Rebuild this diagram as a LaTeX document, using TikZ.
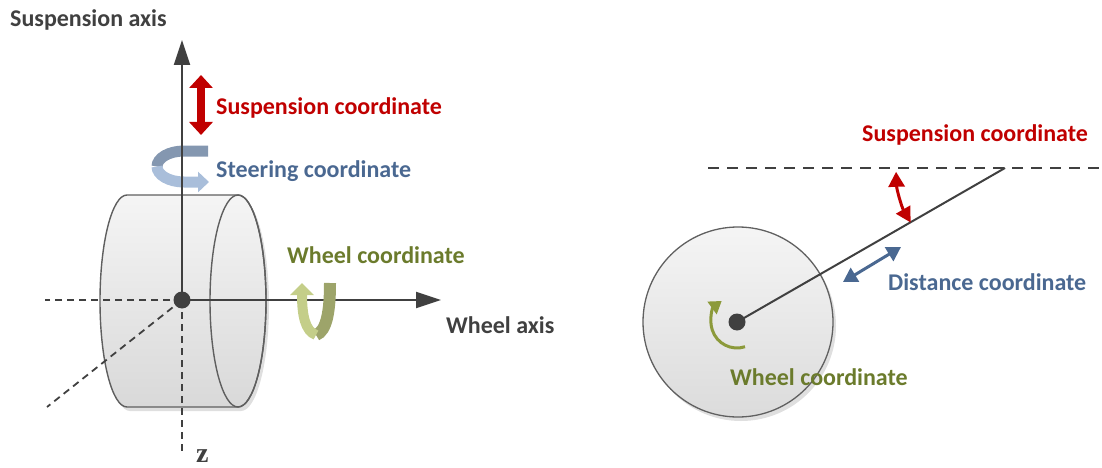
\documentclass[tikz,border=0pt]{standalone}
\usepackage{fontspec}
\setmainfont{Carlito}
\newfontfamily\zfont{Liberation Serif}
\usetikzlibrary{arrows.meta,shadows}

\definecolor{axisgray}{HTML}{404040}
\definecolor{suspred}{HTML}{C00000}
\definecolor{steerblue}{HTML}{4A6891}
\definecolor{steerdark}{HTML}{8497B0}
\definecolor{steerlight}{HTML}{A9BEDA}
\definecolor{wheeltext}{HTML}{6B7B2C}
\definecolor{wheelarc}{HTML}{8C9A3B}
\definecolor{ribbonlight}{HTML}{C4CE89}
\definecolor{ribbondark}{HTML}{9DA46A}
\definecolor{rimgray}{HTML}{5F5F5F}

\tikzset{
  lbl/.style={font=\fontsize{24}{28}\selectfont\bfseries, inner sep=0pt, anchor=base west},
  axisline/.style={draw=axisgray, line width=2pt, -{Triangle[length=25pt,width=16pt]}},
  dashline/.style={draw=axisgray, line width=1.8pt, dash pattern=on 7pt off 5pt},
  longdash/.style={draw=axisgray, line width=2.8pt, dash pattern=on 11pt off 8pt},
  hubdot/.style={circle, fill=axisgray, minimum size=17pt, inner sep=0pt},
  body/.style={draw=rimgray, line width=1.4pt, top color=gray!8, bottom color=gray!30},
  thintip/.tip={Triangle[length=14pt,width=16pt]},
}

\begin{document}
\begin{tikzpicture}[x=1pt,y=-1pt]
\useasboundingbox (0,0) rectangle (1102,468);

% ---------------- cylinder view ----------------
% wheel body seen at an angle
\path[body, drop shadow={shadow xshift=3pt, shadow yshift=-4pt, opacity=0.25}]
  (127,195) -- (238,195)
  arc[start angle=270, end angle=450, x radius=28, y radius=106]
  -- (127,407)
  arc[start angle=90, end angle=270, x radius=27, y radius=106] -- cycle;
\draw[draw=rimgray, line width=1.4pt] (238,301) ellipse[x radius=28, y radius=106];

\node[hubdot] (hub) at (182,300) {};
\coordinate (vtip) at (182,40);
\coordinate (htip) at (441,300);
\coordinate (hleft) at (45,300);
\coordinate (dleft) at (47,407);
\coordinate (vdown) at (182,454);

\draw[dashline] (hub.center) -- (hleft);
\draw[dashline] (hub.center) -- (dleft);
\draw[dashline] (hub.center) -- (vdown);

% steering ribbon around the suspension axis
\draw[steerdark, line width=11pt] (208,151) -- (184,151)
  arc[start angle=270, end angle=180, x radius=27, y radius=15.5];
\draw[steerlight, line width=11pt, -{Triangle[length=11pt,width=20pt]}]
  (157,166.5) arc[start angle=180, end angle=90, x radius=27, y radius=15.5] -- (209,182);

\draw[axisline] (hub.center) -- (vtip);
\draw[axisline] (hub.center) -- (htip);

% suspension travel
\coordinate (supA) at (201,75);
\coordinate (supB) at (201,135);
\draw[suspred, line width=8pt, {Triangle[length=13pt,width=23pt]}-{Triangle[length=13pt,width=23pt]}] (supA) -- (supB);

% wheel spin ribbon
\coordinate (rbot) at (316,335);
\coordinate (rleft) at (302,283);
\coordinate (rright) at (330,283);
\draw[ribbondark, line width=12pt] (rbot) .. controls (327,331) and (330,310) .. (rright);
\draw[ribbonlight, line width=10pt, -{Triangle[length=12pt,width=23pt]}]
  (rbot) .. controls (305,331) and (302,315) .. (rleft);

\node[lbl, text=axisgray] (saxis) at (10,27) {Suspension axis};
\node[lbl, text=suspred] (scoord) at (216,114) {Suspension coordinate};
\node[lbl, text=steerblue] (stcoord) at (216,177) {Steering coordinate};
\node[lbl, text=wheeltext] (wcoord) at (287,263) {Wheel coordinate};
\node[lbl, text=axisgray] (waxis) at (446,333) {Wheel axis};
\node[inner sep=0pt, anchor=base west, text=axisgray, font=\zfont\fontsize{28}{32}\selectfont\bfseries] (zlbl) at (196,462) {z};

% ---------------- side view ----------------
\node[circle, draw=gray!75!black, line width=1.3pt, minimum size=190pt, inner sep=0pt,
      top color=gray!8, bottom color=gray!28,
      drop shadow={shadow xshift=3pt, shadow yshift=-4pt, opacity=0.25}] (disc) at (738,322) {};
\coordinate (dl) at (708,168);
\coordinate (dr) at (1102,168);
\coordinate (pivot) at (1005,168);
\draw[longdash] (dl) -- (dr);

\node[hubdot] (hub2) at (737,322) {};
\draw[axisgray, line width=2pt] (hub2.center) -- (pivot);

% suspension angle
\draw[suspred, line width=3pt, {Triangle[length=15pt,width=16pt]}-{Triangle[length=15pt,width=16pt]}]
  ([shift={(178:109)}]pivot) arc[start angle=178, end angle=150, radius=109];

% distance along the arm
\coordinate (da) at (843,282);
\coordinate (db) at (901,247);
\draw[steerblue, line width=3pt, {thintip}-{thintip}] (da) -- (db);

% wheel rotation
\draw[wheelarc, line width=3pt, -{Triangle[length=12pt,width=15pt]}]
  ([shift={(72:26)}]hub2.center) arc[start angle=72, end angle=234, radius=26];

\node[lbl, text=suspred] (scoord2) at (862,142) {Suspension coordinate};
\node[lbl, text=steerblue] (dcoord) at (888,290) {Distance coordinate};
\node[lbl, text=wheeltext] (wcoord2) at (730,385) {Wheel coordinate};
\end{tikzpicture}
\end{document}
